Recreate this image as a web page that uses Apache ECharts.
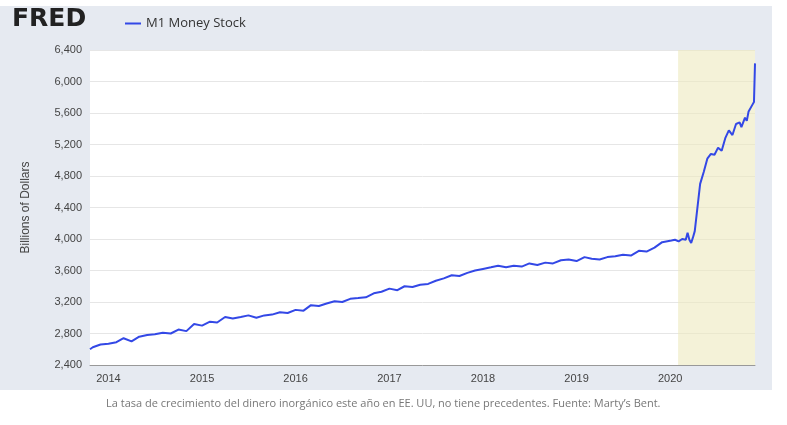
<!DOCTYPE html>
<html>
<head>
    <meta charset="utf-8">
    <title>M1 Money Stock</title>
    <script type="text/javascript" src="https://cdn.jsdelivr.net/npm/echarts@6/dist/echarts.min.js"></script>
    <style>
        body { margin: 0; background: #fff; }
        #main { width: 787px; height: 425px; }
    </style>
</head>
<body>
    <div id="main"></div>
    <script>
        var myChart = echarts.init(document.getElementById('main'));

        // monthly readings 2013-10 .. 2019-12
        var monthly = {
            2013: [null, null, null, null, null, null, null, null, null, 2600, 2625, 2660],
            2014: [2670, 2690, 2740, 2700, 2760, 2780, 2790, 2810, 2800, 2850, 2830, 2920],
            2015: [2900, 2950, 2940, 3010, 2990, 3010, 3030, 3000, 3030, 3040, 3070, 3060],
            2016: [3100, 3090, 3160, 3150, 3180, 3210, 3200, 3240, 3250, 3260, 3310, 3330],
            2017: [3370, 3350, 3400, 3390, 3420, 3430, 3470, 3500, 3540, 3530, 3570, 3600],
            2018: [3620, 3640, 3660, 3640, 3660, 3650, 3690, 3670, 3700, 3690, 3730, 3740],
            2019: [3720, 3770, 3750, 3740, 3770, 3780, 3800, 3790, 3850, 3840, 3890, 3960]
        };
        // 2020 in finer steps
        var y2020 = [
            ['2020-01-06', 3980], ['2020-01-20', 3990], ['2020-02-03', 3970], ['2020-02-17', 4000],
            ['2020-03-02', 3990], ['2020-03-09', 4080], ['2020-03-16', 3990], ['2020-03-23', 3950],
            ['2020-03-30', 4020], ['2020-04-06', 4100], ['2020-04-13', 4300], ['2020-04-20', 4500],
            ['2020-04-27', 4700], ['2020-05-11', 4850], ['2020-05-25', 5020], ['2020-06-08', 5080],
            ['2020-06-22', 5070], ['2020-07-06', 5160], ['2020-07-20', 5120], ['2020-08-03', 5280],
            ['2020-08-17', 5380], ['2020-08-31', 5320], ['2020-09-14', 5460], ['2020-09-28', 5480],
            ['2020-10-05', 5420], ['2020-10-19', 5540], ['2020-10-26', 5500], ['2020-11-02', 5620],
            ['2020-11-09', 5640], ['2020-11-16', 5700], ['2020-11-23', 5740], ['2020-11-27', 6230]
        ];

        var data = [];
        Object.keys(monthly).forEach(function (yr) {
            monthly[yr].forEach(function (v, m) {
                if (v !== null) {
                    var mm = (m + 1 < 10 ? '0' : '') + (m + 1);
                    data.push([yr + '-' + mm + (yr === '2013' && m === 9 ? '-21' : '-01'), v]);
                }
            });
        });
        data = data.concat(y2020);

        var option = {
            animation: false,
            graphic: [
                { type: 'rect', z: -10, shape: { x: 0, y: 6, width: 772, height: 384 }, style: { fill: '#e6eaf1' } },
                { type: 'text', left: 12, top: 7, style: { text: 'FRED', font: '900 25px "DejaVu Sans"', fill: '#222' } },
                { type: 'text', left: 106, top: 398, style: { text: 'La tasa de crecimiento del dinero inorgánico este año en EE. UU, no tiene precedentes. Fuente: Marty\u2019s Bent.', font: '11px "Open Sans"', fill: '#777' } }
            ],
            legend: {
                left: 120, top: 12, itemWidth: 16, itemHeight: 2,
                icon: 'rect',
                textStyle: { fontSize: 13, color: '#333', fontFamily: 'Open Sans' },
                data: ['M1 Money Stock']
            },
            grid: { left: 90, right: 32, top: 50, bottom: 60, backgroundColor: '#fff', show: true, borderWidth: 0 },
            xAxis: {
                type: 'time',
                min: '2013-10-21',
                max: '2020-11-27',
                axisLine: { lineStyle: { color: '#999' } },
                axisTick: { show: false },
                splitLine: { show: false },
                axisLabel: {
                    color: '#444', fontSize: 11,
                    formatter: function (val) {
                        var d = new Date(val);
                        return (d.getMonth() === 0 && d.getDate() === 1) ? String(d.getFullYear()) : '';
                    }
                }
            },
            yAxis: {
                type: 'value',
                name: 'Billions of Dollars',
                nameLocation: 'middle',
                nameGap: 58,
                nameTextStyle: { color: '#444', fontSize: 12 },
                min: 2400, max: 6400, interval: 400,
                axisLabel: {
                    color: '#444', fontSize: 11,
                    formatter: function (v) { return v.toLocaleString('en-US'); }
                },
                splitLine: { lineStyle: { color: '#e6e6e6' } }
            },
            series: [{
                name: 'M1 Money Stock',
                type: 'line',
                showSymbol: false,
                color: '#3348e6',
                lineStyle: { width: 2, color: '#3348e6' },
                data: data,
                markArea: {
                    silent: true,
                    itemStyle: { color: 'rgba(236,234,190,0.6)' },
                    data: [[{ xAxis: '2020-02-01' }, { xAxis: '2020-11-27' }]]
                }
            }]
        };

        myChart.setOption(option);
    </script>
</body>
</html>
